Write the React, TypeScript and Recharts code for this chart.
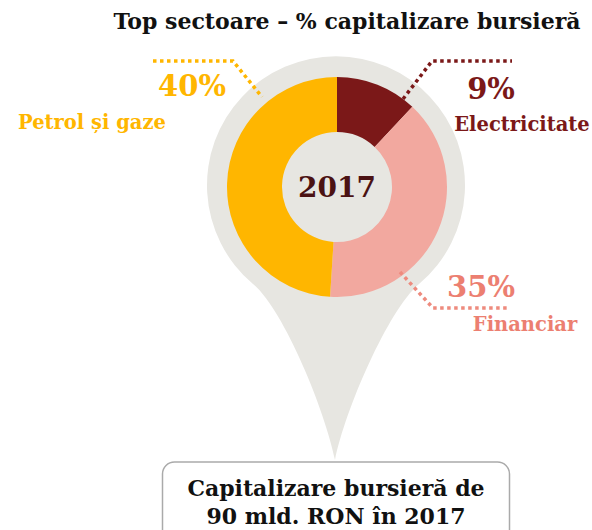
import React from 'react';
import { PieChart, Pie, Cell } from 'recharts';

// sectors, clockwise from 12 o'clock
const sectors = ['Electricitate', 'Financiar', 'Petrol și gaze'];
// printed percentages
const shares = [9, 35, 40];
// slice sizes as drawn in the source (measured from the arc angles: ~43°, ~141°, ~176°)
const arcSizes = [12, 39, 49];
const sliceColors = ['#7B1818', '#F2A89F', '#FFB600'];
const textColors = ['#7B1818', '#EC7F71', '#FFB600'];

const title = 'Top sectoare – % capitalizare bursieră';
const yearLabel = '2017';
const boxLines = ['Capitalizare bursieră de', '90 mld. RON în 2017'];

const pieData = sectors.map((name, i) => ({ name, value: arcSizes[i], share: shares[i] }));

const FONT = '"DejaVu Serif", Georgia, serif';
const GRAY = '#E7E6E1';

// label placement per slice (value text, name text, dotted leader)
const labelLayout = [
  { vx: 491, vy: 99, nx: 522, ny: 131, leader: '403,99 432,61 512,61' },
  { vx: 481, vy: 297, nx: 525, ny: 331, leader: '400,272 433,308 510,308' },
  { vx: 192, vy: 96, nx: 92, ny: 129, leader: '153,61 233,61 262,97' },
];

const renderLabel = (props: any) => {
  const i = props.index;
  const l = labelLayout[i];
  const c = textColors[i];
  return (
    <g key={`lbl-${i}`}>
      <polyline
        points={l.leader}
        fill="none"
        stroke={i === 1 ? '#EE8B7E' : c}
        strokeWidth={3.5}
        strokeDasharray="3.5 3.5"
      />
      <text x={l.vx} y={l.vy} textAnchor="middle" fill={c} fontFamily={FONT} fontWeight="bold" fontSize={29}>
        {pieData[i].share}%
      </text>
      <text x={l.nx} y={l.ny} textAnchor="middle" fill={c} fontFamily={FONT} fontWeight="bold" fontSize={19.5}>
        {pieData[i].name}
      </text>
    </g>
  );
};

export default function App() {
  return (
    <div style={{ position: 'relative', width: 592, height: 530, overflow: 'hidden', background: '#fff' }}>
      <style>{'body{margin:0}'}</style>
      <svg width={592} height={530} style={{ position: 'absolute', left: 0, top: 0 }}>
        {/* pin shape */}
        <path
          d="M 253 284 C 283.6 309.7 325 410 335 460 C 345 410 388.4 309.7 419 284 A 129 129 0 1 0 253 284 Z"
          fill={GRAY}
        />
        <text x={347} y={29} textAnchor="middle" fontFamily={FONT} fontWeight="bold" fontSize={22} fill="#111">
          {title}
        </text>
        <text x={337} y={197} textAnchor="middle" fontFamily={FONT} fontWeight="bold" fontSize={28} fill="#4B1213">
          {yearLabel}
        </text>
        <rect x={162.5} y={462} width={347} height={90} rx={12} fill="#fff" stroke="#AAAAAA" strokeWidth={1.5} />
        {boxLines.map((t, k) => (
          <text key={t} x={336} y={496 + k * 28} textAnchor="middle" fontFamily={FONT} fontWeight="bold" fontSize={22} fill="#111">
            {t}
          </text>
        ))}
      </svg>
      <div style={{ position: 'absolute', left: 0, top: 0 }}>
        <PieChart width={592} height={530} margin={{ top: 0, right: 0, bottom: 0, left: 0 }}>
          <Pie
            data={pieData}
            dataKey="value"
            nameKey="name"
            cx={337}
            cy={187}
            innerRadius={55}
            outerRadius={110}
            startAngle={90}
            endAngle={-270}
            stroke="none"
            label={renderLabel}
            labelLine={false}
            isAnimationActive={false}
          >
            {pieData.map((d, i) => (
              <Cell key={d.name} fill={sliceColors[i]} />
            ))}
          </Pie>
        </PieChart>
      </div>
    </div>
  );
}
